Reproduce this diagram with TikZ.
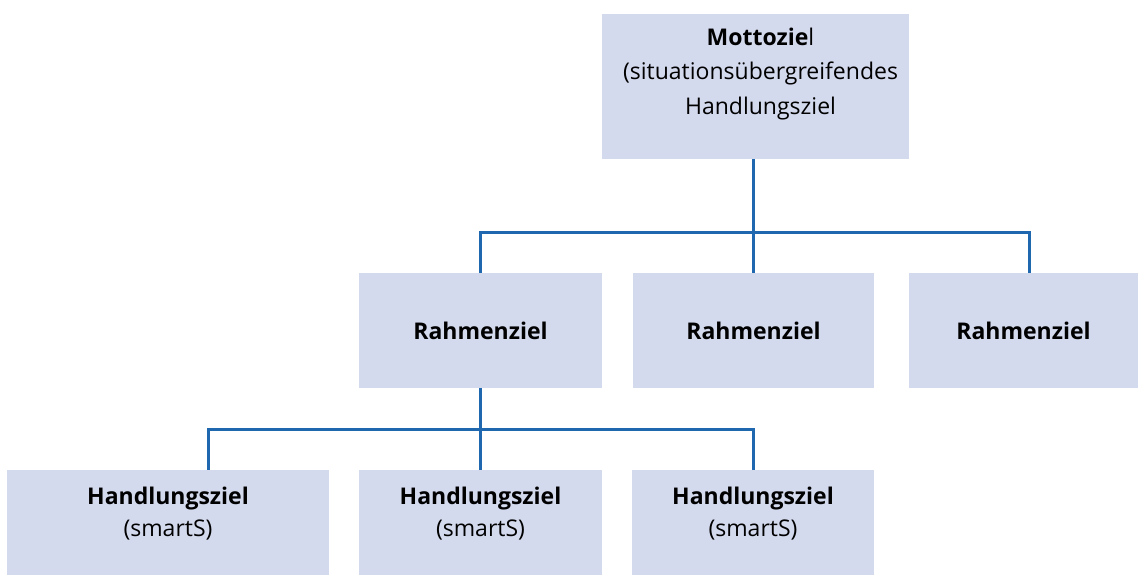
\documentclass[tikz,border=0pt]{standalone}
\usepackage{fontspec}
\setmainfont{Open Sans}
\definecolor{boxfill}{HTML}{D4DAEE}
\definecolor{linkblue}{HTML}{1F68B0}
\begin{document}
\begin{tikzpicture}[x=1pt,y=-1pt,
  goalbox/.style={fill=boxfill, draw=none, inner sep=0pt, align=center, text=black},
  link/.style={draw=linkblue, line width=3pt},
  lbl/.style={align=center, inner sep=0pt, font=\fontsize{23}{34}\selectfont}]
\useasboundingbox (0,0) rectangle (1138,575);
% boxes
\node[goalbox, minimum width=307pt, minimum height=145pt] (top) at (755.5,86.5) {};
\node[lbl, font=\fontsize{23}{34.5}\selectfont] (toptext) at (760.5,74) {\textbf{Mottozie}l\\(situationsübergreifendes\\Handlungsziel};
\node[goalbox, minimum width=243pt, minimum height=115pt, font=\fontsize{23}{34}\selectfont\bfseries] (r1) at (480.5,330.5) {Rahmenziel};
\node[goalbox, minimum width=241pt, minimum height=115pt, font=\fontsize{23}{34}\selectfont\bfseries] (r2) at (753.5,330.5) {Rahmenziel};
\node[goalbox, minimum width=229pt, minimum height=115pt, font=\fontsize{23}{34}\selectfont\bfseries] (r3) at (1023.5,330.5) {Rahmenziel};
\node[goalbox, minimum width=322pt, minimum height=105pt] (h1) at (168,522.5) {};
\node[goalbox, minimum width=243pt, minimum height=105pt] (h2) at (480.5,522.5) {};
\node[goalbox, minimum width=242pt, minimum height=105pt] (h3) at (753,522.5) {};
\node[lbl, font=\fontsize{23}{32}\selectfont] (h1t) at (168,514) {\textbf{Handlungsziel}\\(smartS)};
\node[lbl, font=\fontsize{23}{32}\selectfont] (h2t) at (480.5,514) {\textbf{Handlungsziel}\\(smartS)};
\node[lbl, font=\fontsize{23}{32}\selectfont] (h3t) at (753,514) {\textbf{Handlungsziel}\\(smartS)};
% connectors
\coordinate (bus1) at (753,232);
\coordinate (bus2) at (480.5,429);
\draw[link] ([xshift=-2.5pt]top.south) -- (bus1);
\draw[link] (bus1) -| (r1.north);
\draw[link] (bus1) -| ([xshift=5.5pt]r3.north);
\draw[link] (bus1) -- ([xshift=-0.5pt]r2.north);
\draw[link] (r1.south) -- (bus2);
\draw[link] (bus2) -| ([xshift=40pt]h1.north);
\draw[link] (bus2) -| (h3.north);
\draw[link] (bus2) -- (h2.north);
\end{tikzpicture}
\end{document}
